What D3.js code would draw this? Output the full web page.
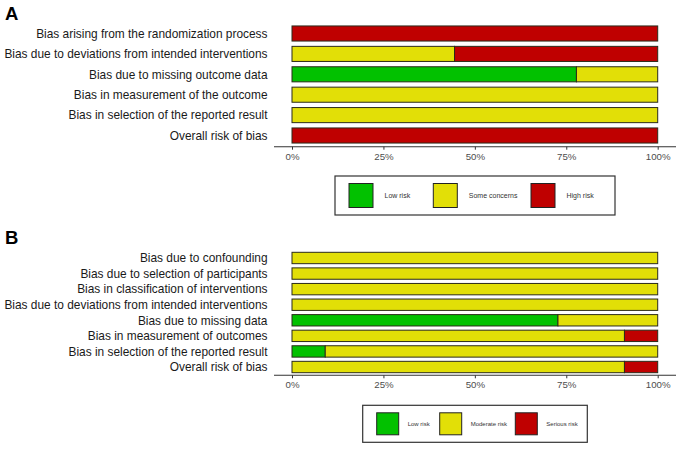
<!DOCTYPE html>
<html>
<head>
<meta charset="utf-8">
<script src="https://cdn.jsdelivr.net/npm/d3@7"></script>
<style>
  body { margin: 0; background: #fff; }
  text { font-family: "Liberation Sans", Arial, sans-serif; }
</style>
</head>
<body>
<div id="chart"></div>
<script>
// Panel A: RoB 2 (9 studies)
const domainsA = [
  "Bias arising from the randomization process",
  "Bias due to deviations from intended interventions",
  "Bias due to missing outcome data",
  "Bias in measurement of the outcome",
  "Bias in selection of the reported result",
  "Overall risk of bias"
];
const lowA  = [0, 0, 7, 0, 0, 0];
const someA = [0, 4, 2, 9, 9, 0];
const highA = [9, 5, 0, 0, 0, 9];
const levelsA = ["Low risk", "Some concerns", "High risk"];

// Panel B: ROBINS-I (11 studies)
const domainsB = [
  "Bias due to confounding",
  "Bias due to selection of participants",
  "Bias in classification of interventions",
  "Bias due to deviations from intended interventions",
  "Bias due to missing data",
  "Bias in measurement of outcomes",
  "Bias in selection of the reported result",
  "Overall risk of bias"
];
const lowB      = [0, 0, 0, 0, 8, 0, 1, 0];
const moderateB = [11, 11, 11, 11, 3, 10, 10, 10];
const seriousB  = [0, 0, 0, 0, 0, 1, 0, 1];
const levelsB = ["Low risk", "Moderate risk", "Serious risk"];

const ticks = [0, 0.25, 0.5, 0.75, 1];
const colors = ["#02C100", "#E2DF07", "#BF0000"];

const svg = d3.select("#chart").append("svg")
    .attr("width", 680)
    .attr("height", 449);

const x = d3.scaleLinear().domain([0, 1]).range([292, 657.7]);

function drawPanel(opt) {
    // build rows from the arrays
    let rows = opt.domains.map((d, i) => {
        let total = opt.series[0][i] + opt.series[1][i] + opt.series[2][i];
        return {
            domain: d,
            k0: opt.series[0][i] / total,
            k1: opt.series[1][i] / total,
            k2: opt.series[2][i] / total
        };
    });

    let stack = d3.stack().keys(["k0", "k1", "k2"])(rows);

    let y = d3.scaleBand()
        .domain(opt.domains)
        .range(opt.yRange)
        .paddingInner(opt.pad)
        .paddingOuter(opt.pad / 2);

    let g = svg.append("g");

    // panel letter
    g.append("text")
        .attr("x", 5)
        .attr("y", opt.letterY)
        .style("font-size", "18.5px")
        .style("font-weight", "bold")
        .style("fill", "#000")
        .text(opt.letter);

    // domain labels
    g.selectAll(".lab")
        .data(opt.domains)
        .enter().append("text")
        .attr("class", "lab")
        .attr("x", 267.5)
        .attr("y", d => y(d) + y.bandwidth() / 2)
        .attr("dy", "0.36em")
        .attr("text-anchor", "end")
        .style("font-size", "11.9px")
        .style("fill", "#1a1a1a")
        .text(d => d);

    // stacked bars
    g.selectAll(".layer")
        .data(stack)
        .enter().append("g")
        .attr("class", "layer")
        .style("fill", (d, i) => colors[i])
        .selectAll("rect")
        .data(d => d.filter(s => s[1] - s[0] > 0))
        .enter().append("rect")
        .attr("x", d => x(d[0]))
        .attr("width", d => x(d[1]) - x(d[0]))
        .attr("y", d => y(d.data.domain))
        .attr("height", y.bandwidth())
        .style("stroke", "#2b2b1a")
        .style("stroke-width", 1);

    // x axis
    g.append("line")
        .attr("x1", 274).attr("x2", 676)
        .attr("y1", opt.axisY).attr("y2", opt.axisY)
        .style("stroke", "#333")
        .style("stroke-width", 1.1);

    let axis = g.append("g")
        .attr("transform", "translate(0," + opt.axisY + ")")
        .call(d3.axisBottom(x).tickValues(ticks).tickFormat(d3.format(".0%")).tickSize(3).tickPadding(3));
    axis.select(".domain").remove();
    axis.selectAll(".tick line").style("stroke", "#333");
    axis.selectAll(".tick text")
        .style("font-family", "Liberation Sans, Arial, sans-serif")
        .style("font-size", "9.7px")
        .style("fill", "#4d4d4d");

    // legend
    let lg = opt.legend;
    g.append("rect")
        .attr("x", lg.x).attr("y", lg.y)
        .attr("width", lg.w).attr("height", lg.h)
        .style("fill", "#fff")
        .style("stroke", "#333")
        .style("stroke-width", 1.2);

    let items = g.selectAll(".leg")
        .data(opt.levels)
        .enter().append("g")
        .attr("class", "leg")
        .attr("transform", (d, i) => "translate(" + lg.keyX[i] + "," + (lg.y + (lg.h - lg.key) / 2) + ")");

    items.append("rect")
        .attr("width", lg.key).attr("height", lg.key)
        .style("fill", (d, i) => colors[i])
        .style("stroke", "#222")
        .style("stroke-width", 1);

    items.append("text")
        .attr("x", lg.key + lg.gap)
        .attr("y", lg.key / 2)
        .attr("dy", "0.35em")
        .style("font-size", lg.font)
        .style("fill", "#333")
        .text(d => d);
}

drawPanel({
    letter: "A", letterY: 19.5,
    domains: domainsA,
    series: [lowA, someA, highA],
    levels: levelsA,
    yRange: [23.3, 145.7], pad: 0.26,
    axisY: 146.7,
    legend: {x: 335, y: 176, w: 280, h: 39, key: 24, gap: 11.5, font: "7px",
             keyX: [349, 433.3, 531]}
});

drawPanel({
    letter: "B", letterY: 243.5,
    domains: domainsB,
    series: [lowB, moderateB, seriousB],
    levels: levelsB,
    yRange: [250.2, 374.8], pad: 0.27,
    axisY: 375.3,
    legend: {x: 362.7, y: 405.3, w: 224.6, h: 37, key: 22, gap: 9, font: "6px",
             keyX: [376.7, 439.7, 515.3]}
});
</script>
</body>
</html>
